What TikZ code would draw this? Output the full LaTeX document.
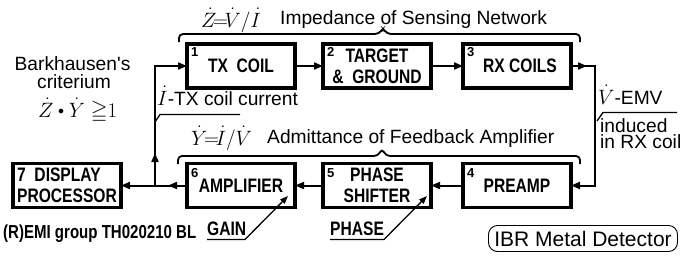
\documentclass[tikz,border=0pt]{standalone}
\usepackage{fontspec}
\usepackage{amssymb}
\setmainfont{Liberation Sans}
\newfontfamily\nbf{Liberation Sans}[FakeStretch=0.8]
\usetikzlibrary{arrows.meta,calc}
\newcommand\smbul{\mathbin{\vcenter{\hbox{\fontsize{12}{12}\selectfont$\bullet$}}}}
\begin{document}
\begin{tikzpicture}[x=1pt,y=-1pt,
  blk/.style={draw,line width=3.6pt,minimum width=108pt,minimum height=44pt,inner sep=0pt,outer sep=0pt,align=center,font=\nbf\bfseries\fontsize{19.5}{21}\selectfont},
  num/.style={anchor=north west,inner sep=0pt,font=\bfseries\fontsize{13}{13}\selectfont},
  conn/.style={line width=2pt},
  arr/.style={conn,-{Triangle[length=9pt,width=7pt]}},
  lead/.style={line width=1.3pt},
  larr/.style={line width=1.3pt,-{Triangle[length=8pt,width=6pt]}},
  brc/.style={line width=1.8pt,rounded corners=4pt},
  txt/.style={inner sep=0pt,anchor=base west,font=\fontsize{19.2}{19.2}\selectfont},
  mth/.style={inner sep=0pt,anchor=base west,font=\fontsize{21.5}{21.5}\selectfont},
  lab/.style={inner sep=0pt,anchor=base west,font=\nbf\bfseries\fontsize{19.5}{19.5}\selectfont}]
\useasboundingbox (0,0) rectangle (681,255);

% blocks
\node[blk] (b1) at (241,66) {TX\ \ COIL};
\node[blk] (b2) at (377,66) {TARGET\\\& \ GROUND};
\node[blk] (b3) at (517,66) {\hspace*{6pt}RX COILS};
\node[blk] (b4) at (517,185.5) {PREAMP};
\node[blk] (b5) at (377,185.5) {PHASE\\SHIFTER};
\node[blk] (b6) at (241,185.5) {AMPLIFIER};
\node[blk,align=left] (b7) at (67,185.5) {7\ \ DISPLAY\\PROCESSOR};

\node[num] (n1) at ($(b1.north west)+(4,3)$) {1};
\node[num] (n2) at ($(b2.north west)+(4,3)$) {2};
\node[num] (n3) at ($(b3.north west)+(4,3)$) {3};
\node[num] (n4) at ($(b4.north west)+(4,5)$) {4};
\node[num] (n5) at ($(b5.north west)+(4,5)$) {5};
\node[num] (n6) at ($(b6.north west)+(4,5)$) {6};

% connectors
\draw[arr] (b1) -- (b2);
\draw[arr] (b2) -- (b3);
\draw[arr] (b3.east) -- ++(16,0);
\draw[arr] (b3.east) -- ++(24,0) coordinate (rt) |- (b4.east);
\draw[arr] (b4) -- (b5);
\draw[arr] (b5) -- (b6);
\coordinate (j) at (155,185.5);
\coordinate (ja) at (155,153);
\draw[arr] (b6.west) -- (b7.east);
\draw[arr] (b6.west) -- ++(-19,0);
\draw[arr] (j) |- (b1.west);
\draw[arr] (j) -- (ja);

% braces
\draw[brc] (179,42) -- (179,34) -- (379,34) -- (383,28) -- (387,34) -- (580,34) -- (580,42);
\draw[brc] (178,164) -- (178,156) -- (378,156) -- (382,148.5) -- (386,156) -- (580,156) -- (580,164);

% texts
\node[mth] (zf) at (201,27) {$\dot Z\!{=}\!\dot V{/}\dot I$};
\node[txt] (zt) at (280,24) {Impedance of Sensing Network};
\node[mth] (yf) at (191,145) {$\dot Y\!{=}\!\dot I{/}\dot V$};
\node[txt] (yt) at (267,143) {Admittance of Feedback Amplifier};
\node[txt,anchor=base] (bk1) at (72.5,70) {Barkhausen\textquotesingle s};
\node[txt,anchor=base] (bk2) at (74,88) {criterium};
\node[mth] (bk3) at (38,117) {$\dot Z\smbul\dot Y\;{\geqq}1$};

\node[txt] (icur) at (157,105) {{\fontsize{21}{21}\selectfont$\dot I$}-TX coil current};
\coordinate (iA) at (155,122);
\coordinate (iB) at (160,114.5);
\coordinate (iC) at (240,114.5);
\draw[lead] (iA) -- (iB) -- (iC);

\node[txt] (emv) at (598,104) {{\fontsize{21}{21}\selectfont$\dot V$}-EMV};
\node[txt] (ind1) at (600,132) {induced};
\node[txt] (ind2) at (600,148) {in RX coil};
\coordinate (vA) at (597,121);
\coordinate (vB) at (603,112.5);
\coordinate (vC) at (677,112.5);
\draw[lead] (vA) -- (vB) -- (vC);

\node[lab] (gain) at (207,235) {GAIN};
\coordinate (gA) at (207,239.5);
\coordinate (gB) at (245,239.5);
\coordinate (gT) at (288,196);
\draw[larr] (gA) -- (gB) -- (gT);

\node[lab] (phase) at (330,235) {PHASE};
\coordinate (pA) at (330,239.5);
\coordinate (pB) at (384,239.5);
\coordinate (pT) at (427,196);
\draw[larr] (pA) -- (pB) -- (pT);

\node[lab,font=\nbf\bfseries\fontsize{18.8}{18.8}\selectfont] (grp) at (3,238) {(R)EMI group TH020210 BL};

\node[draw,line width=0.9pt,rounded corners=9pt,minimum width=189pt,minimum height=26pt,inner sep=0pt,font=\fontsize{21}{21}\selectfont] (ibr) at (583,238.5) {IBR Metal Detector};
\end{tikzpicture}
\end{document}
